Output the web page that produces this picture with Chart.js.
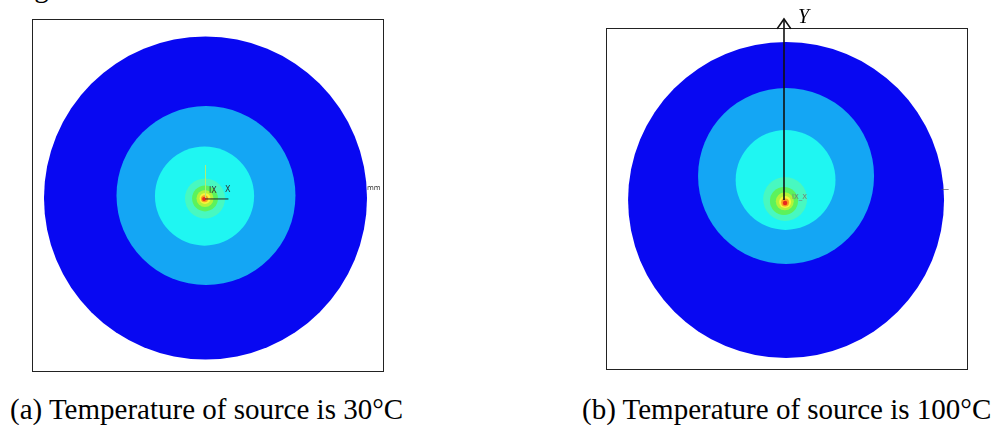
<!DOCTYPE html>
<html>
<head>
<meta charset="utf-8">
<script src="https://cdn.jsdelivr.net/npm/chart.js@4/dist/chart.umd.min.js"></script>
<style>
  html, body { margin: 0; padding: 0; background: #fff; }
  body { width: 1001px; height: 425px; position: relative; overflow: hidden; }
  .frame { position: absolute; border: 1.5px solid #222; box-sizing: border-box; }
  .chart { position: absolute; top: 0; filter: blur(0.4px); }
  .caption { position: absolute; top: 395px; font-family: "Liberation Serif", "Times New Roman", serif; font-size: 29px; line-height: 29px; color: #000; white-space: nowrap; }
  .tiny { position: absolute; font-family: "DejaVu Sans", sans-serif; font-size: 8px; line-height: 8px; color: #333; white-space: nowrap; }
</style>
</head>
<body>
<div class="caption" style="top:-27px; left:10px;">Figure</div>

<div class="frame" style="left:32px; top:19px; width:352px; height:353px;"></div>
<div class="frame" style="left:606px; top:28px; width:362px; height:342px;"></div>

<canvas id="chartA" class="chart" style="left:0;" width="500" height="385"></canvas>
<canvas id="chartB" class="chart" style="left:500px;" width="501" height="385"></canvas>

<div class="tiny" style="left:209px; top:187px;">lX</div>
<div class="tiny" style="left:225px; top:186px;">X</div>
<div class="tiny" style="left:367px; top:184px; font-size:7px;">mm</div>
<div class="tiny" style="left:792px; top:193px; color:#777; font-size:7px;">lX_X</div>
<div class="tiny" style="left:941px; top:186px; color:#555;">—</div>

<div class="caption" style="top:6px; left:798px; font-size:20px; line-height:20px; font-style:italic;">Y</div>

<div class="caption" style="left:10px;">(a) Temperature of source is 30°C</div>
<div class="caption" style="left:582px;">(b) Temperature of source is 100°C</div>

<script>
// contour bands, outermost first (radius as r/R of the disc, centre offsets in the same unit)
const bands = ['band 1', 'band 2', 'band 3', 'band 4', 'band 5', 'band 6', 'band 7', 'band 8', 'band 9']
const bandColours = ['#0808f2', '#14a6f4', '#1ff6f2', '#48f8c0', '#5cf25c', '#b2f43a', '#f8f53a', '#f7a020', '#e8281e']

// (a) source at 30 °C
const radiiA   = [1.000, 0.554, 0.307, 0.124, 0.080, 0.053, 0.034, 0.022, 0.012]
const centreXA = [0.000, 0.003, -0.006, -0.003, -0.003, -0.003, -0.003, -0.006, -0.009]
const centreYA = [0.000, 0.015, 0.012, -0.003, -0.003, -0.003, -0.003, -0.005, -0.006]

// (b) source at 100 °C
const radiiB   = [1.000, 0.557, 0.316, 0.139, 0.089, 0.057, 0.038, 0.025, 0.014]
const centreXB = [0.000, 0.000, -0.003, -0.006, -0.013, -0.008, -0.006, -0.006, -0.006]
const centreYB = [0.000, 0.152, 0.127, 0.006, -0.006, -0.008, -0.013, -0.016, -0.019]

// small local axes drawn on the plots
const triadYA = 0.204, triadXA = 0.142
const axisXB = -0.013, axisTopB = 1.146
const arrowHeadB = [[-0.057, 1.083], [-0.013, 1.146], [0.031, 1.083]]

function toPx(scale, r) {
  return Math.abs(scale.getPixelForValue(r) - scale.getPixelForValue(0))
}

function contourDataset(radii, cx, cy) {
  return {
    label: 'contours',
    data: bands.map((b, i) => ({ x: cx[i], y: cy[i] })),
    pointRadius: ctx => toPx(ctx.chart.scales.x, radii[ctx.dataIndex]),
    pointBackgroundColor: bandColours,
    pointBorderWidth: 0,
    showLine: false,
    clip: false
  }
}

function lineDataset(points, colour, width) {
  return {
    data: points.map(p => ({ x: p[0], y: p[1] })),
    showLine: true,
    borderColor: colour,
    borderWidth: width,
    pointRadius: 0,
    clip: false
  }
}

function createContourChart(canvasId, datasets, range, padding) {
  const ctx = document.getElementById(canvasId)
  if (!ctx) return

  new Chart(ctx, {
    type: 'scatter',
    data: { datasets: datasets },
    options: {
      responsive: false,
      animation: false,
      events: [],
      layout: { padding: padding },
      plugins: { legend: { display: false }, tooltip: { enabled: false } },
      scales: {
        x: { type: 'linear', display: false, min: range[0], max: range[1] },
        y: { type: 'linear', display: false, min: range[2], max: range[3] }
      }
    }
  })
}

createContourChart('chartA', [
  lineDataset([[0, 0], [0, triadYA]], '#b4ee70', 1),
  lineDataset([[0, -0.006], [triadXA, -0.006]], '#222', 1),
  contourDataset(radiiA, centreXA, centreYA)
], [-1.068, 1.099, -1.065, 1.102], { left: 33, top: 20, right: 117, bottom: 15 })

createContourChart('chartB', [
  lineDataset([[axisXB, 0], [axisXB, axisTopB]], '#111', 1.6),
  lineDataset(arrowHeadB, '#111', 1.6),
  contourDataset(radiiB, centreXB, centreYB)
], [-1.127, 1.139, -1.063, 1.076], { left: 108, top: 30, right: 35, bottom: 17 })
</script>
</body>
</html>
